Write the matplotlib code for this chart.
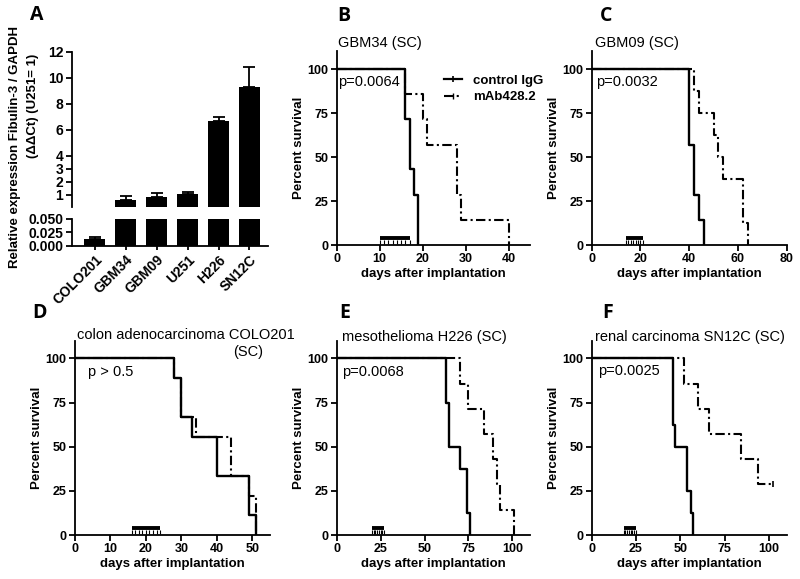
import matplotlib
matplotlib.use("Agg")
import matplotlib.pyplot as plt
from matplotlib.lines import Line2D

plt.rcParams['font.family'] = ['Liberation Sans', 'DejaVu Sans']

# ---------------- data ----------------
cell_lines = ["COLO201", "GBM34", "GBM09", "U251", "H226", "SN12C"]
expr_mean = [0.013, 0.60, 0.84, 1.04, 6.70, 9.30]
expr_err = [0.004, 0.29, 0.30, 0.15, 0.30, 1.50]
top_ticks = [1, 2, 3, 4, 6, 8, 10, 12]
bot_ticks = [0.0, 0.025, 0.05]
bot_ticklabels = ["0.000", "0.025", "0.050"]

surv_ticks = [0, 25, 50, 75, 100]

# panel B  GBM34
B_ctrl_t = [0, 16, 17, 18, 19]
B_ctrl_s = [100, 71.4, 42.9, 28.6, 0]
B_mab_t = [0, 16, 20, 21, 28, 29, 40]
B_mab_s = [100, 85.7, 71.4, 57.1, 28.6, 14.3, 0]
B_treat = [10, 11, 12, 13, 14, 15, 16, 17]
B_xticks = [0, 10, 20, 30, 40]

# panel C  GBM09
C_ctrl_t = [0, 40, 42, 44, 46]
C_ctrl_s = [100, 57.1, 28.6, 14.3, 0]
C_mab_t = [0, 42, 44, 50, 52, 54, 62, 64]
C_mab_s = [100, 87.5, 75, 62.5, 50, 37.5, 12.5, 0]
C_treat = [14, 15, 16, 17, 18, 19, 20, 21]
C_xticks = [0, 20, 40, 60, 80]

# panel D  COLO201
D_ctrl_t = [0, 28, 30, 33, 40, 49, 51]
D_ctrl_s = [100, 88.9, 66.7, 55.6, 33.3, 11.1, 0]
D_mab_t = [0, 28, 30, 34, 44, 49, 51]
D_mab_s = [100, 88.9, 66.7, 55.6, 33.3, 22.2, 0]
D_treat = [16, 17, 18, 19, 20, 21, 22, 23, 24]
D_xticks = [0, 10, 20, 30, 40, 50]

# panel E  H226
E_ctrl_t = [0, 62, 64, 70, 74, 76]
E_ctrl_s = [100, 75, 50, 37.5, 12.5, 0]
E_mab_t = [0, 70, 75, 84, 89, 91, 93, 101]
E_mab_s = [100, 85.7, 71.4, 57.1, 42.9, 28.6, 14.3, 0]
E_treat = [20, 21, 22, 23, 24, 25, 26, 27]
E_xticks = [0, 25, 50, 75, 100]

# panel F  SN12C
F_ctrl_t = [0, 46, 47, 54, 56, 57]
F_ctrl_s = [100, 62.5, 50, 25, 12.5, 0]
F_mab_t = [0, 52, 60, 66, 84, 94, 102]
F_mab_s = [100, 85.7, 71.4, 57.1, 42.9, 28.6, 28.6]
F_treat = [18, 19, 20, 21, 22, 23, 24, 25]
F_xticks = [0, 25, 50, 75, 100]

# ---------------- layout ----------------
W, H = 800, 579
fig = plt.figure(figsize=(W / 100, H / 100), dpi=100)


def rect(l, t, r, b):
    return [l / W, 1 - b / H, (r - l) / W, (b - t) / H]


def fx(x):
    return x / W


def fy(y):
    return 1 - y / H


LW = 1.3
DASH = (0, (4.5, 1.6, 1, 1.6))


def style_axes(ax, size=9):
    for s in ['top', 'right']:
        ax.spines[s].set_visible(False)
    for s in ['left', 'bottom']:
        ax.spines[s].set_linewidth(LW)
    ax.tick_params(direction='out', length=4, width=LW, pad=2)
    for lab in ax.get_xticklabels() + ax.get_yticklabels():
        lab.set_fontweight('bold')
        lab.set_fontsize(size)


# ---------------- panel A ----------------
axA1 = fig.add_axes(rect(71.7, 51.7, 268, 206.8))
axA2 = fig.add_axes(rect(71.7, 219, 268, 245.7))
xpos = list(range(len(cell_lines)))
for ax in (axA1, axA2):
    ax.bar(xpos, expr_mean, width=0.68, color='black')
    ax.set_xlim(-0.75, 5.6)
# upper (broken) axis: error bars for lines whose values reach this range
axA1.errorbar(xpos[1:], expr_mean[1:], yerr=[[0] * (len(expr_err) - 1), expr_err[1:]],
              fmt='none', ecolor='black', elinewidth=1.3, capsize=4, capthick=1.3)
# lower axis: error bar of the low-expressing line
axA2.errorbar(xpos[:1], expr_mean[:1], yerr=[[0], expr_err[:1]],
              fmt='none', ecolor='black', elinewidth=1.3, capsize=4, capthick=1.3)
axA1.set_ylim(0.08, 12)
axA1.set_yticks(top_ticks)
axA1.set_xticks([])
style_axes(axA1, 10)
axA1.spines['bottom'].set_visible(False)
axA2.set_ylim(0, 0.05)
axA2.set_yticks(bot_ticks)
axA2.set_yticklabels(bot_ticklabels)
axA2.set_xticks(xpos)
axA2.set_xticklabels(cell_lines, rotation=45, ha='right', rotation_mode='anchor')
style_axes(axA2, 10)
axA2.tick_params(axis='x', length=3)

fig.text(fx(15), fy(147), "Relative expression Fibulin-3 / GAPDH", rotation=90,
         ha='center', va='center', fontsize=9.5, fontweight='bold')
fig.text(fx(33), fy(106), "(\u0394\u0394Ct) (U251= 1)", rotation=90,
         ha='center', va='center', fontsize=9.5, fontweight='bold')


# ---------------- survival panels ----------------
def survival(r, ctrl_t, ctrl_s, mab_t, mab_s, treat, xmax, xticks, ptext, pxy):
    ax = fig.add_axes(r)
    ax.step(mab_t, mab_s, where='post', color='black', lw=1.5, linestyle=DASH, zorder=2)
    ax.step(ctrl_t, ctrl_s, where='post', color='black', lw=1.7, zorder=3)
    ax.plot([treat[0], treat[-1]], [4, 4], color='black', lw=2.8, solid_capstyle='butt')
    ax.vlines(treat, 0.3, 2.6, color='black', lw=0.8)
    ax.set_xlim(0, xmax)
    ax.set_ylim(0, 110)
    ax.set_xticks(xticks)
    ax.set_yticks(surv_ticks)
    style_axes(ax)
    ax.set_xlabel("days after implantation", fontsize=9.5, fontweight='bold', labelpad=2)
    ax.set_ylabel("Percent survival", fontsize=9.5, fontweight='bold', labelpad=2)
    ax.text(pxy[0], pxy[1], ptext, fontsize=10.5, ha='left', va='center')
    return ax


axB = survival(rect(336.7, 51.4, 530, 245), B_ctrl_t, B_ctrl_s, B_mab_t, B_mab_s,
               B_treat, 45, B_xticks, "p=0.0064", (0.4, 92.8))
axC = survival(rect(591.7, 51.4, 786.7, 245), C_ctrl_t, C_ctrl_s, C_mab_t, C_mab_s,
               C_treat, 80, C_xticks, "p=0.0032", (1.6, 92.8))
axD = survival(rect(75, 340.7, 270, 535), D_ctrl_t, D_ctrl_s, D_mab_t, D_mab_s,
               D_treat, 55, D_xticks, "p > 0.5", (3.8, 92.4))
axE = survival(rect(336.7, 340.7, 530, 535), E_ctrl_t, E_ctrl_s, E_mab_t, E_mab_s,
               E_treat, 110, E_xticks, "p=0.0068", (2.9, 92.4))
axF = survival(rect(591.7, 340.7, 786.7, 535), F_ctrl_t, F_ctrl_s, F_mab_t, F_mab_s,
               F_treat, 110, F_xticks, "p=0.0025", (3.7, 93))
# censor mark at end of F mAb curve
axF.plot([F_mab_t[-1]], [F_mab_s[-1]], marker='|', color='black', markersize=5, mew=1.2)

# legend in B
handles = [Line2D([], [], color='black', lw=1.6, marker='|', markersize=5, mew=1.2),
           Line2D([], [], color='black', lw=1.5, linestyle=DASH, marker='|', markersize=5, mew=1.0)]
axB.legend(handles, ["control IgG", "mAb428.2"], loc='upper left',
           bbox_to_anchor=(fx(432), fy(63)), bbox_transform=fig.transFigure,
           frameon=False, handlelength=1.4, handletextpad=0.8, labelspacing=0.3,
           numpoints=1, prop=dict(size=9.5, weight='bold'))

# titles
TITLE = dict(fontsize=10.5, ha='left', va='center')
fig.text(fx(338), fy(43), "GBM34 (SC)", **TITLE)
fig.text(fx(595), fy(43), "GBM09 (SC)", **TITLE)
fig.text(fx(77), fy(335), "colon adenocarcinoma COLO201", **TITLE)
fig.text(fx(233), fy(352), "(SC)", **TITLE)
fig.text(fx(342), fy(337), "mesothelioma H226 (SC)", **TITLE)
fig.text(fx(595), fy(337), "renal carcinoma SN12C (SC)", **TITLE)

# panel letters
LET = dict(fontsize=14, fontweight='bold', ha='left', va='center',
           family=['Open Sans', 'DejaVu Sans'])
fig.text(fx(30), fy(15), "A", **LET)
fig.text(fx(337), fy(16), "B", **LET)
fig.text(fx(600), fy(16), "C", **LET)
fig.text(fx(32), fy(313), "D", **LET)
fig.text(fx(339), fy(313), "E", **LET)
fig.text(fx(602), fy(313), "F", **LET)

fig.savefig("out.png", dpi=100)
